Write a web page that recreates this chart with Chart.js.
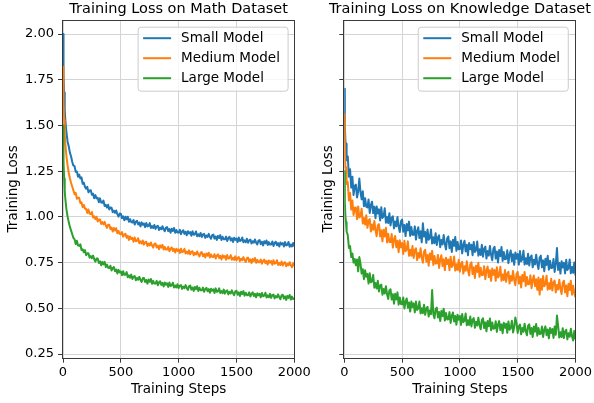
<!DOCTYPE html>
<html>
<head>
<meta charset="utf-8">
<script src="https://cdn.jsdelivr.net/npm/chart.js@4.4.1/dist/chart.umd.min.js"></script>
<style>
  html, body { margin: 0; padding: 0; background: #fff; }
  #wrap { position: relative; width: 594px; height: 403px; }
  #wrap canvas { position: absolute; left: 0; top: 0; }
</style>
</head>
<body>
<div id="wrap">
  <canvas id="math" width="594" height="403"></canvas>
  <canvas id="knowledge" width="594" height="403"></canvas>
</div>
<script>
// logged training steps: a few early ones, then every 10 steps
const earlySteps = [0, 3, 6, 10, 15, 20, 30, 40, 50, 60, 70, 80, 90];
const steps = earlySteps.slice();
for (let s = 100; s <= 2000; s += 10) steps.push(s);

const modelNames = ['Small Model', 'Medium Model', 'Large Model'];
const xTicks = [0, 500, 1000, 1500, 2000];
const yTicks = [0.25, 0.50, 0.75, 1.00, 1.25, 1.50, 1.75, 2.00];

// ---- Math dataset (one row = 100 steps) ----
const mathSmall = [
  2.00, 1.88, 1.78, 1.68, 1.59, 1.53, 1.46, 1.41, 1.385, 1.35, 1.33, 1.30, 1.28,
  1.277, 1.246, 1.248, 1.219, 1.231, 1.210, 1.216, 1.181, 1.187, 1.164,
  1.154, 1.164, 1.134, 1.144, 1.146, 1.121, 1.127, 1.102, 1.119, 1.101,
  1.104, 1.080, 1.101, 1.078, 1.077, 1.089, 1.059, 1.066, 1.051, 1.066,
  1.040, 1.051, 1.050, 1.025, 1.034, 1.022, 1.035, 1.015, 1.001, 1.018,
  1.017, 0.993, 1.003, 0.981, 1.001, 0.987, 1.001, 0.973, 0.987, 0.971,
  0.969, 0.983, 0.958, 0.973, 0.979, 0.958, 0.969, 0.948, 0.970, 0.957,
  0.964, 0.944, 0.967, 0.948, 0.951, 0.966, 0.939, 0.950, 0.939, 0.956,
  0.934, 0.948, 0.951, 0.928, 0.941, 0.932, 0.949, 0.932, 0.921, 0.941,
  0.944, 0.922, 0.934, 0.913, 0.935, 0.923, 0.939, 0.913, 0.928, 0.914,
  0.914, 0.929, 0.905, 0.920, 0.927, 0.907, 0.919, 0.899, 0.921, 0.909,
  0.917, 0.897, 0.921, 0.902, 0.905, 0.920, 0.894, 0.905, 0.894, 0.912,
  0.890, 0.904, 0.907, 0.885, 0.898, 0.890, 0.907, 0.890, 0.880, 0.900,
  0.903, 0.881, 0.893, 0.874, 0.896, 0.884, 0.900, 0.874, 0.891, 0.877,
  0.877, 0.892, 0.868, 0.884, 0.891, 0.871, 0.883, 0.863, 0.886, 0.874,
  0.882, 0.862, 0.887, 0.868, 0.871, 0.887, 0.861, 0.872, 0.861, 0.880,
  0.858, 0.872, 0.876, 0.854, 0.867, 0.859, 0.876, 0.859, 0.849, 0.870,
  0.873, 0.851, 0.864, 0.844, 0.867, 0.855, 0.871, 0.846, 0.862, 0.849,
  0.849, 0.865, 0.841, 0.857, 0.864, 0.845, 0.857, 0.838, 0.860, 0.849,
  0.857, 0.838, 0.862, 0.844, 0.847, 0.863, 0.837, 0.849, 0.838, 0.857,
  0.838
];
const mathMedium = [
  1.82, 1.72, 1.63, 1.53, 1.45, 1.40, 1.33, 1.28, 1.24, 1.21, 1.185, 1.165, 1.145,
  1.124, 1.131, 1.099, 1.105, 1.104, 1.076, 1.080, 1.052, 1.065, 1.045,
  1.045, 1.021, 1.040, 1.017, 1.016, 1.027, 0.996, 1.003, 0.988, 1.001,
  0.975, 0.986, 0.986, 0.961, 0.971, 0.959, 0.973, 0.953, 0.940, 0.957,
  0.957, 0.933, 0.942, 0.920, 0.939, 0.925, 0.938, 0.910, 0.923, 0.907,
  0.904, 0.917, 0.891, 0.903, 0.908, 0.886, 0.896, 0.874, 0.893, 0.879,
  0.885, 0.864, 0.887, 0.867, 0.869, 0.883, 0.856, 0.866, 0.854, 0.871,
  0.848, 0.861, 0.864, 0.841, 0.854, 0.844, 0.860, 0.843, 0.832, 0.852,
  0.854, 0.832, 0.843, 0.823, 0.844, 0.832, 0.847, 0.821, 0.836, 0.822,
  0.821, 0.836, 0.812, 0.826, 0.833, 0.813, 0.825, 0.805, 0.826, 0.814,
  0.822, 0.802, 0.826, 0.807, 0.810, 0.825, 0.799, 0.810, 0.799, 0.817,
  0.795, 0.809, 0.812, 0.790, 0.803, 0.794, 0.811, 0.794, 0.784, 0.804,
  0.807, 0.785, 0.797, 0.778, 0.800, 0.788, 0.804, 0.778, 0.795, 0.781,
  0.781, 0.796, 0.772, 0.788, 0.795, 0.775, 0.787, 0.767, 0.790, 0.778,
  0.786, 0.766, 0.791, 0.772, 0.775, 0.791, 0.765, 0.776, 0.765, 0.784,
  0.762, 0.776, 0.780, 0.758, 0.771, 0.763, 0.780, 0.763, 0.753, 0.774,
  0.777, 0.755, 0.768, 0.748, 0.770, 0.759, 0.775, 0.749, 0.765, 0.752,
  0.752, 0.767, 0.744, 0.759, 0.766, 0.747, 0.759, 0.739, 0.761, 0.750,
  0.758, 0.738, 0.763, 0.744, 0.747, 0.763, 0.737, 0.748, 0.737, 0.756,
  0.734, 0.748, 0.752, 0.730, 0.743, 0.735, 0.752, 0.735, 0.725, 0.746,
  0.731
];
const mathLarge = [
  1.50, 1.40, 1.30, 1.21, 1.14, 1.10, 1.04, 1.00, 0.97, 0.945, 0.925, 0.905, 0.885,
  0.877, 0.851, 0.869, 0.844, 0.841, 0.850, 0.818, 0.823, 0.806, 0.818,
  0.790, 0.801, 0.801, 0.776, 0.786, 0.774, 0.788, 0.768, 0.755, 0.772,
  0.772, 0.748, 0.757, 0.735, 0.754, 0.740, 0.754, 0.725, 0.739, 0.722,
  0.720, 0.733, 0.707, 0.720, 0.725, 0.703, 0.712, 0.690, 0.710, 0.696,
  0.702, 0.681, 0.703, 0.683, 0.684, 0.698, 0.670, 0.680, 0.667, 0.684,
  0.660, 0.673, 0.676, 0.653, 0.666, 0.656, 0.672, 0.655, 0.644, 0.664,
  0.666, 0.644, 0.655, 0.635, 0.657, 0.645, 0.660, 0.634, 0.650, 0.635,
  0.635, 0.650, 0.626, 0.641, 0.648, 0.628, 0.639, 0.619, 0.641, 0.629,
  0.637, 0.617, 0.641, 0.622, 0.625, 0.640, 0.614, 0.625, 0.614, 0.632,
  0.610, 0.624, 0.627, 0.606, 0.619, 0.610, 0.627, 0.610, 0.601, 0.621,
  0.624, 0.602, 0.614, 0.595, 0.617, 0.605, 0.621, 0.595, 0.612, 0.598,
  0.598, 0.613, 0.590, 0.605, 0.612, 0.593, 0.605, 0.585, 0.607, 0.596,
  0.604, 0.584, 0.609, 0.590, 0.593, 0.609, 0.583, 0.594, 0.583, 0.602,
  0.580, 0.594, 0.598, 0.576, 0.590, 0.581, 0.598, 0.582, 0.572, 0.593,
  0.596, 0.574, 0.587, 0.567, 0.590, 0.578, 0.594, 0.569, 0.585, 0.572,
  0.572, 0.587, 0.564, 0.579, 0.587, 0.567, 0.579, 0.560, 0.582, 0.571,
  0.579, 0.560, 0.584, 0.566, 0.569, 0.585, 0.559, 0.571, 0.560, 0.579,
  0.557, 0.572, 0.575, 0.554, 0.567, 0.559, 0.576, 0.560, 0.550, 0.571,
  0.574, 0.553, 0.565, 0.546, 0.568, 0.557, 0.573, 0.548, 0.564, 0.551,
  0.552
];

// ---- Knowledge dataset (one row = 100 steps) ----
const knowSmall = [
  1.70, 1.56, 1.50, 1.41, 1.40, 1.31, 1.33, 1.22, 1.26, 1.16, 1.22, 1.12, 1.17,
  1.176, 1.106, 1.138, 1.210, 1.136, 1.096, 1.140, 1.058, 1.102, 1.056,
  1.052, 1.095, 1.021, 1.064, 1.083, 1.021, 1.055, 0.993, 1.057, 1.019,
  1.041, 0.980, 1.052, 0.994, 1.002, 1.047, 0.968, 1.000, 0.966, 1.020,
  0.953, 0.995, 1.003, 0.937, 0.975, 0.948, 0.999, 0.947, 0.917, 0.976,
  0.985, 0.919, 0.955, 0.895, 0.961, 0.926, 0.974, 0.896, 0.944, 0.902,
  0.902, 0.948, 0.876, 0.922, 0.943, 0.884, 0.921, 0.861, 0.965, 0.892,
  0.917, 0.858, 0.931, 0.875, 0.885, 0.931, 0.854, 0.888, 0.856, 0.911,
  0.846, 0.889, 0.899, 0.834, 0.874, 0.849, 0.901, 0.851, 0.822, 0.883,
  0.893, 0.829, 0.866, 0.808, 0.875, 0.841, 0.890, 0.814, 0.863, 0.823,
  0.824, 0.871, 0.800, 0.847, 0.869, 0.811, 0.848, 0.790, 0.857, 0.823,
  0.848, 0.790, 0.863, 0.808, 0.818, 0.865, 0.788, 0.823, 0.791, 0.847,
  0.782, 0.826, 0.837, 0.772, 0.813, 0.788, 0.841, 0.792, 0.763, 0.825,
  0.836, 0.772, 0.810, 0.751, 0.819, 0.785, 0.835, 0.759, 0.808, 0.768,
  0.770, 0.817, 0.747, 0.793, 0.816, 0.758, 0.796, 0.738, 0.805, 0.771,
  0.797, 0.739, 0.813, 0.757, 0.768, 0.815, 0.739, 0.774, 0.742, 0.798,
  0.734, 0.778, 0.789, 0.724, 0.765, 0.740, 0.793, 0.744, 0.715, 0.777,
  0.788, 0.724, 0.762, 0.703, 0.771, 0.737, 0.787, 0.711, 0.760, 0.720,
  0.722, 0.769, 0.699, 0.745, 0.830, 0.710, 0.748, 0.690, 0.757, 0.723,
  0.749, 0.691, 0.765, 0.709, 0.720, 0.767, 0.691, 0.726, 0.694, 0.750,
  0.680
];
const knowMedium = [
  1.56, 1.42, 1.37, 1.27, 1.27, 1.18, 1.19, 1.09, 1.13, 1.04, 1.09, 1.01, 1.05,
  1.051, 0.988, 1.057, 0.997, 1.003, 1.045, 0.964, 0.994, 0.958, 1.009,
  0.940, 0.980, 0.988, 0.920, 0.958, 0.929, 0.978, 0.926, 0.894, 0.953,
  0.960, 0.893, 0.927, 0.866, 0.930, 0.893, 0.940, 0.860, 0.907, 0.863,
  0.862, 0.906, 0.832, 0.876, 0.895, 0.834, 0.869, 0.807, 0.872, 0.834,
  0.857, 0.797, 0.869, 0.812, 0.821, 0.866, 0.787, 0.820, 0.787, 0.841,
  0.775, 0.818, 0.828, 0.763, 0.803, 0.777, 0.828, 0.778, 0.749, 0.810,
  0.820, 0.755, 0.792, 0.733, 0.800, 0.765, 0.814, 0.737, 0.786, 0.745,
  0.746, 0.792, 0.721, 0.768, 0.790, 0.731, 0.768, 0.709, 0.777, 0.742,
  0.767, 0.708, 0.782, 0.726, 0.737, 0.783, 0.706, 0.741, 0.709, 0.765,
  0.700, 0.744, 0.754, 0.690, 0.730, 0.705, 0.757, 0.708, 0.679, 0.741,
  0.751, 0.687, 0.724, 0.666, 0.733, 0.699, 0.749, 0.672, 0.722, 0.681,
  0.683, 0.730, 0.659, 0.706, 0.729, 0.671, 0.708, 0.650, 0.718, 0.683,
  0.709, 0.651, 0.724, 0.669, 0.680, 0.727, 0.650, 0.685, 0.654, 0.709,
  0.645, 0.689, 0.700, 0.635, 0.676, 0.651, 0.704, 0.655, 0.626, 0.688,
  0.699, 0.635, 0.673, 0.614, 0.682, 0.648, 0.698, 0.622, 0.671, 0.631,
  0.633, 0.680, 0.610, 0.656, 0.679, 0.621, 0.659, 0.601, 0.668, 0.575,
  0.660, 0.602, 0.676, 0.620, 0.631, 0.678, 0.602, 0.637, 0.605, 0.661,
  0.597, 0.641, 0.652, 0.587, 0.628, 0.603, 0.656, 0.607, 0.578, 0.640,
  0.651, 0.587, 0.625, 0.566, 0.634, 0.600, 0.650, 0.574, 0.623, 0.583,
  0.560
];
const knowLarge = [
  1.25, 1.14, 1.08, 1.00, 0.97, 0.92, 0.90, 0.83, 0.84, 0.78, 0.80, 0.75, 0.77,
  0.735, 0.767, 0.702, 0.780, 0.746, 0.690, 0.714, 0.659, 0.708, 0.673,
  0.688, 0.635, 0.691, 0.642, 0.647, 0.682, 0.613, 0.638, 0.608, 0.650,
  0.592, 0.625, 0.630, 0.574, 0.605, 0.581, 0.621, 0.577, 0.551, 0.598,
  0.604, 0.548, 0.577, 0.525, 0.579, 0.548, 0.587, 0.520, 0.559, 0.523,
  0.522, 0.559, 0.499, 0.537, 0.554, 0.503, 0.532, 0.482, 0.537, 0.507,
  0.527, 0.477, 0.537, 0.491, 0.499, 0.537, 0.472, 0.500, 0.473, 0.519,
  0.464, 0.500, 0.508, 0.455, 0.488, 0.467, 0.600, 0.469, 0.445, 0.496,
  0.504, 0.450, 0.480, 0.430, 0.486, 0.457, 0.498, 0.433, 0.474, 0.439,
  0.440, 0.479, 0.420, 0.459, 0.477, 0.428, 0.458, 0.410, 0.465, 0.437,
  0.458, 0.409, 0.469, 0.424, 0.432, 0.471, 0.407, 0.435, 0.409, 0.455,
  0.401, 0.437, 0.446, 0.393, 0.427, 0.406, 0.449, 0.408, 0.385, 0.436,
  0.445, 0.392, 0.423, 0.374, 0.431, 0.402, 0.444, 0.380, 0.422, 0.388,
  0.390, 0.429, 0.371, 0.411, 0.430, 0.381, 0.412, 0.364, 0.421, 0.393,
  0.415, 0.366, 0.428, 0.383, 0.392, 0.432, 0.368, 0.397, 0.450, 0.419,
  0.365, 0.401, 0.411, 0.358, 0.392, 0.372, 0.416, 0.375, 0.352, 0.404,
  0.413, 0.360, 0.392, 0.343, 0.400, 0.372, 0.414, 0.350, 0.392, 0.359,
  0.361, 0.400, 0.343, 0.382, 0.401, 0.353, 0.384, 0.336, 0.392, 0.365,
  0.387, 0.338, 0.400, 0.355, 0.460, 0.404, 0.340, 0.369, 0.343, 0.391,
  0.337, 0.373, 0.383, 0.330, 0.364, 0.344, 0.388, 0.347, 0.324, 0.376,
  0.330
];

const COLORS = ['#1f77b4', '#ff7f0e', '#2ca02c'];
const GRID = '#d4d4d4';
const AXIS = '#3a3a3a';
const Y_MIN = 0.2298;
const Y_MAX = 2.0766;
const LABEL_FONT = { size: 13.5 };

Chart.defaults.font.family = "'DejaVu Sans', sans-serif";
Chart.defaults.font.size = 13;
Chart.defaults.color = '#000';

// axes frame on all four sides
const frame = {
  id: 'frame',
  afterDatasetsDraw(chart) {
    const { ctx, chartArea: a } = chart;
    ctx.save();
    ctx.strokeStyle = AXIS;
    ctx.lineWidth = 1;
    ctx.strokeRect(Math.round(a.left) - 0.5, Math.round(a.top) + 0.5,
      Math.round(a.right - a.left) + 1, Math.round(a.bottom - a.top));
    ctx.restore();
  }
};

// title centred over the plot area
const panelTitle = {
  id: 'panelTitle',
  afterDraw(chart, args, opts) {
    const { ctx, chartArea: a } = chart;
    ctx.save();
    ctx.font = "14.5px 'DejaVu Sans', sans-serif";
    ctx.fillStyle = '#000';
    ctx.textAlign = 'center';
    ctx.textBaseline = 'middle';
    ctx.fillText(opts.text, (a.left + a.right) / 2, 9.5);
    ctx.restore();
  }
};

// boxed legend in the upper right corner
const boxLegend = {
  id: 'boxLegend',
  afterDatasetsDraw(chart, args, opts) {
    const { ctx, chartArea: a } = chart;
    const w = 150, h = 64;
    const x0 = a.right - opts.inset - w;
    const y0 = a.top + 6.7;
    ctx.save();
    ctx.beginPath();
    ctx.roundRect(x0 + 0.5, y0 + 0.5, w, h, 3);
    ctx.fillStyle = 'rgba(255,255,255,0.8)';
    ctx.fill();
    ctx.strokeStyle = '#cccccc';
    ctx.lineWidth = 1;
    ctx.stroke();
    ctx.font = "13.5px 'DejaVu Sans', sans-serif";
    ctx.textBaseline = 'middle';
    ctx.textAlign = 'left';
    modelNames.forEach((name, i) => {
      const y = y0 + 11.5 + i * 20;
      ctx.strokeStyle = COLORS[i];
      ctx.lineWidth = 2;
      ctx.beginPath();
      ctx.moveTo(x0 + 5.5, y);
      ctx.lineTo(x0 + 33.5, y);
      ctx.stroke();
      ctx.fillStyle = '#000';
      ctx.fillText(name, x0 + 43.5, y + 0.5);
    });
    ctx.restore();
  }
};

function toPoints(values) {
  return steps.map((s, i) => ({ x: s, y: values[i] }));
}

function makeChart(id, title, series, opts) {
  const datasets = series.map((values, i) => ({
    label: modelNames[i],
    data: toPoints(values),
    borderColor: COLORS[i],
    borderWidth: 2,
    borderJoinStyle: 'round',
    pointRadius: 0,
    tension: 0,
    order: 2 - i,
  }));

  return new Chart(document.getElementById(id), {
    type: 'line',
    data: { datasets },
    plugins: [frame, panelTitle, boxLegend],
    options: {
      responsive: false,
      animation: false,
      devicePixelRatio: 1,
      layout: { padding: { left: opts.padLeft, right: opts.padRight, top: 20, bottom: 0 } },
      plugins: {
        legend: { display: false },
        tooltip: { enabled: false },
        panelTitle: { text: title },
        boxLegend: { inset: opts.legendInset },
      },
      scales: {
        x: {
          type: 'linear',
          min: 0,
          max: 2000,
          afterBuildTicks: (s) => { s.ticks = xTicks.map((v) => ({ value: v })); },
          afterFit: (s) => { s.height = 45.3; },
          grid: { color: GRID, lineWidth: 1, tickColor: AXIS, tickLength: 5 },
          border: { display: false },
          ticks: { padding: 2, autoSkip: false, maxRotation: 0, callback: (v) => String(v) },
          title: { display: true, text: 'Training Steps', font: LABEL_FONT, padding: { top: 0, bottom: 5.9 } },
        },
        y: {
          type: 'linear',
          min: Y_MIN,
          max: Y_MAX,
          afterBuildTicks: (s) => { s.ticks = yTicks.map((v) => ({ value: v })); },
          afterFit: (s) => { s.width = opts.axisWidth; },
          grid: { color: GRID, lineWidth: 1, tickColor: AXIS, tickLength: 5 },
          border: { display: false },
          ticks: { display: opts.showYLabels, padding: 4, callback: (v) => v.toFixed(2) },
          title: { display: true, text: 'Training Loss', font: LABEL_FONT, padding: { top: opts.yTitlePad, bottom: 0 } },
        },
      },
    },
  });
}

makeChart('math', 'Training Loss on Math Dataset', [mathSmall, mathMedium, mathLarge], {
  padLeft: 0, padRight: 299.7, axisWidth: 63, yTitlePad: 4.9, showYLabels: true, legendInset: 6.7,
});
makeChart('knowledge', 'Training Loss on Knowledge Dataset', [knowSmall, knowMedium, knowLarge], {
  padLeft: 300, padRight: 18.3, axisWidth: 44.3, yTitlePad: 19.9, showYLabels: false, legendInset: 7.7,
});
</script>
</body>
</html>
